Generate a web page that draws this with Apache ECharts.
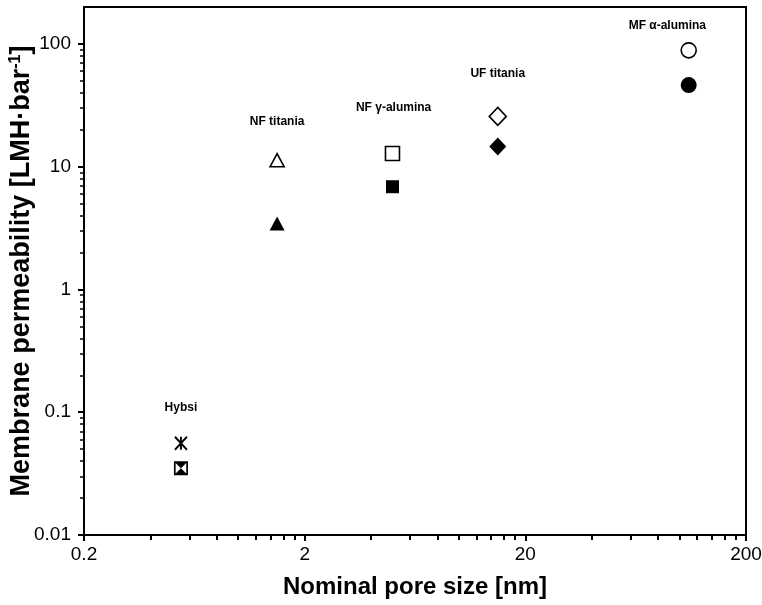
<!DOCTYPE html>
<html><head><meta charset="utf-8">
<script src="https://cdn.jsdelivr.net/npm/echarts@6/dist/echarts.min.js"></script>
<style>html,body{margin:0;padding:0;background:#fff}#c{width:762px;height:605px}</style>
</head><body><div id="c"></div>
<script>
// ---- data ----
const groups = ['Hybsi', 'NF titania', 'NF γ-alumina', 'UF titania', 'MF α-alumina'];
const poreSize = [0.55, 1.5, 5.0, 15, 110];
const permOpen = [0.056, 11.3, 12.8, 25.7, 88.7];
const permFilled = [0.035, 3.45, 6.87, 14.6, 46.2];
const labelX = [0.55, 1.5, 5.06, 15, 88];
const labelY = [0.109, 23.4, 30.4, 57.6, 140];
const xTicks = [0.2, 2, 20, 200];
const xTickLabels = ['0.2', '2', '20', '200'];
const yTicks = [0.01, 0.1, 1, 10, 100];
const yTickLabels = ['0.01', '0.1', '1', '10', '100'];
const xMin = 0.2, xMax = 200, yMin = 0.01, yMax = 200;

// ---- helpers ----
const FONT = '"Liberation Sans", Arial, sans-serif';
const r10 = v => +v.toFixed(10);
const tx = v => r10(Math.log10(v / xMin));
const ty = v => r10(Math.log10(v));
function minorTicks(lo, hi) {
  const out = [];
  for (let b = lo; b < hi * 0.999; b *= 10)
    for (let k = 2; k <= 9; k++) { const v = b * k; if (v < hi * 0.999) out.push(v); }
  return out;
}
const xMinor = minorTicks(xMin, xMax);
const yMinor = minorTicks(yMin, yMax);
function labelFor(ticks, labels, t, v) {
  for (let i = 0; i < ticks.length; i++) if (Math.abs(t(ticks[i]) - v) < 1e-6) return labels[i];
  return '';
}

const asterisk = 'path://M5 0L5 10M0 0L10 10M0 10L10 0';
const squareX = 'path://M0 0H10V10H0Z M1.2 1.2V8.8H8.8V1.2Z M1.2 1.2H8.8L5 5Z M1.2 8.8H8.8L5 5Z';
const openSymbols = [asterisk, 'triangle', 'rect', 'diamond', 'circle'];
const filledSymbols = [squareX, 'triangle', 'rect', 'diamond', 'circle'];
const openSizes = [[12, 13], [14, 13], [14, 14], [17, 18], [15, 15]];
const filledSizes = [[14, 14], [15, 14], [13, 13], [17, 18], [16, 16]];

const black = '#000';
const axisCommon = {
  type: 'value', splitLine: { show: false },
  axisLine: { onZero: false, lineStyle: { color: black, width: 2 } },
};

const option = {
  animation: false,
  backgroundColor: '#fff',
  grid: { left: 84, right: 16, top: 7, bottom: 70, show: true, borderColor: black, borderWidth: 2,
    containLabel: false, outerBoundsMode: 'none' },
  xAxis: [
    Object.assign({}, axisCommon, {
      min: 0, max: tx(xMax), position: 'bottom',
      axisTick: { customValues: xTicks.map(tx), length: 6, lineStyle: { color: black, width: 2 } },
      axisLabel: { customValues: xTicks.map(tx), formatter: v => labelFor(xTicks, xTickLabels, tx, v),
        color: black, fontSize: 19, fontFamily: FONT, margin: 10 },
      name: 'Nominal pore size [nm]', nameLocation: 'middle', nameGap: 40, nameMoveOverlap: false,
      nameTextStyle: { color: black, fontSize: 24, fontWeight: 'bold', fontFamily: FONT }
    }),
    Object.assign({}, axisCommon, {
      min: 0, max: tx(xMax), position: 'bottom',
      axisLine: { show: false, onZero: false },
      axisTick: { customValues: xMinor.map(tx), length: 5, lineStyle: { color: black, width: 2 } },
      axisLabel: { show: false }
    })
  ],
  yAxis: [
    Object.assign({}, axisCommon, {
      min: ty(yMin), max: ty(yMax), position: 'left',
      axisTick: { customValues: yTicks.map(ty), length: 6, lineStyle: { color: black, width: 2 } },
      axisLabel: { customValues: yTicks.map(ty), formatter: v => labelFor(yTicks, yTickLabels, ty, v),
        color: black, fontSize: 19, fontFamily: FONT, margin: 13 },
      name: 'Membrane permeability [LMH·bar{sup|-1}]', nameLocation: 'middle', nameGap: 49, nameRotate: 90,
      nameMoveOverlap: false,
      nameTextStyle: { color: black, fontSize: 27, fontWeight: 'bold', fontFamily: FONT,
        rich: { sup: { fontSize: 16, fontWeight: 'bold', fontFamily: FONT, color: black, verticalAlign: 'top' } } }
    }),
    Object.assign({}, axisCommon, {
      min: ty(yMin), max: ty(yMax), position: 'left',
      axisLine: { show: false, onZero: false },
      axisTick: { customValues: yMinor.map(ty), length: 4, lineStyle: { color: black, width: 1.5 } },
      axisLabel: { show: false }
    })
  ],
  series: [
    {
      type: 'scatter', name: 'open', xAxisIndex: 0, yAxisIndex: 0, z: 3,
      itemStyle: { color: '#fff', borderColor: black, borderWidth: 1.6, opacity: 1 },
      emphasis: { disabled: true },
      data: poreSize.map((x, i) => ({ value: [tx(x), ty(permOpen[i])], symbol: openSymbols[i], symbolSize: openSizes[i],
        itemStyle: i === 0 ? { color: 'rgba(0,0,0,0)', borderWidth: 2, opacity: 1 } : undefined }))
    },
    {
      type: 'scatter', name: 'filled', xAxisIndex: 0, yAxisIndex: 0, z: 3,
      itemStyle: { color: black, borderWidth: 0, opacity: 1 },
      emphasis: { disabled: true },
      data: poreSize.map((x, i) => ({ value: [tx(x), ty(permFilled[i])], symbol: filledSymbols[i], symbolSize: filledSizes[i] }))
    },
    {
      type: 'scatter', name: 'labels', xAxisIndex: 0, yAxisIndex: 0, symbolSize: 0, silent: true,
      itemStyle: { opacity: 1 },
      label: { show: true, position: 'inside', formatter: p => p.name, color: black, fontSize: 12, opacity: 1,
        fontWeight: 'bold', fontFamily: FONT },
      data: groups.map((g, i) => ({ name: g, value: [tx(labelX[i]), ty(labelY[i])] }))
    }
  ]
};
const chart = echarts.init(document.getElementById('c'), null, { renderer: 'canvas' });
chart.setOption(option);
</script>
</body></html>
